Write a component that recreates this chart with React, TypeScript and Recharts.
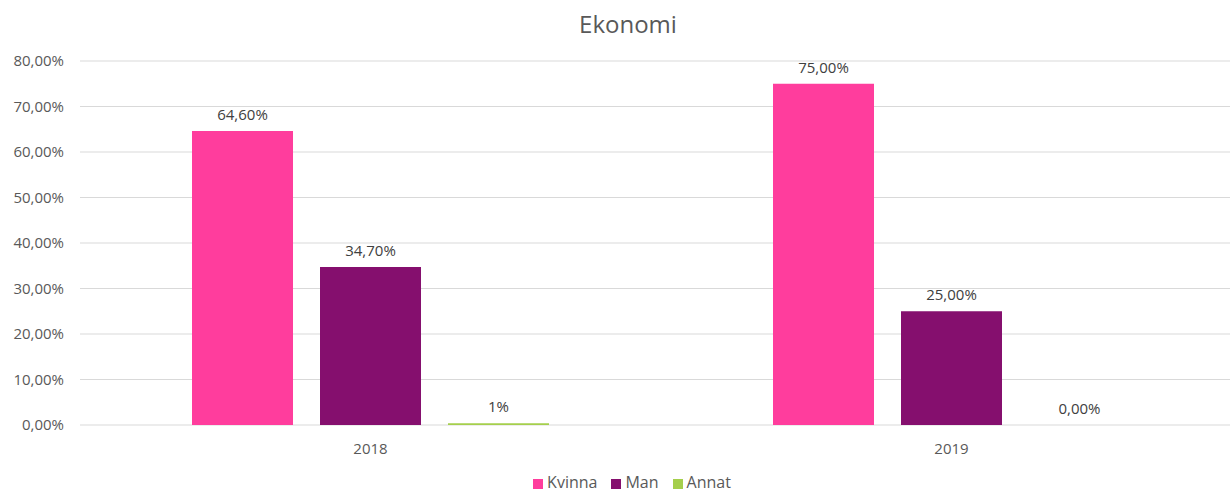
import { BarChart, Bar, XAxis, YAxis, CartesianGrid, Legend, LabelList } from "recharts";

const years = ["2018", "2019"];
const kvinna = [0.646, 0.75];
const man = [0.347, 0.25];
const annat = [0.004, 0];
const kvinnaLabels = ["64,60%", "75,00%"];
const manLabels = ["34,70%", "25,00%"];
const annatLabels = ["1%", "0,00%"];
const yTicks = [0, 0.1, 0.2, 0.3, 0.4, 0.5, 0.6, 0.7, 0.8];
const legendOrder = ["Kvinna", "Man", "Annat"];

const data = years.map((year, i) => ({
  year,
  kvinna: kvinna[i],
  man: man[i],
  annat: annat[i],
  kvinnaLabel: kvinnaLabels[i],
  manLabel: manLabels[i],
  annatLabel: annatLabels[i],
}));

const font = "'Open Sans', 'Noto Sans', sans-serif";
const textColor = "#595959";
const labelColor = "#404040";

const fmtPct = (v: number) => (v * 100).toFixed(2).replace(".", ",") + "%";

export default function App() {
  return (
    <div style={{ position: "absolute", left: 0, top: 0, width: 1230, height: 491, background: "#fff", fontFamily: font, overflow: "hidden" }}>
      <div style={{
        position: "absolute",
        top: 7,
        left: 0,
        width: 1256,
        textAlign: "center",
        fontSize: 24,
        color: textColor,
      }}>
        Ekonomi
      </div>
      <BarChart
        width={1230}
        height={491}
        data={data}
        margin={{ top: 61, right: -12, bottom: 0, left: 0 }}
        barSize={101}
        barGap={27}
        style={{ overflow: "visible" }}
      >
        <CartesianGrid vertical={false} stroke="#d9d9d9" />
        <XAxis
          dataKey="year"
          axisLine={false}
          tickLine={false}
          height={40}
          tick={{ fill: textColor, fontSize: 15, fontFamily: font }}
          tickMargin={12}
        />
        <YAxis
          domain={[0, 0.8]}
          ticks={yTicks}
          width={80}
          axisLine={false}
          tickLine={false}
          tickMargin={10}
          tickFormatter={fmtPct}
          tick={{ fill: textColor, fontSize: 15, fontFamily: font }}
        />
        <Legend
          iconType="square"
          iconSize={10}
          height={26}
          itemSorter={(item: any) => legendOrder.indexOf(item.value)}
          wrapperStyle={{ fontSize: 16, lineHeight: "16px", color: textColor, fontFamily: font, paddingLeft: 18, bottom: -9 }}
          formatter={(value) => <span style={{ color: textColor, marginRight: 4 }}>{value}</span>}
        />
        <Bar dataKey="kvinna" name="Kvinna" fill="#FF3D9D" isAnimationActive={false}>
          <LabelList dataKey="kvinnaLabel" position="top" offset={11} fill={labelColor} fontSize={15} fontFamily={font} />
        </Bar>
        <Bar dataKey="man" name="Man" fill="#850F6E" isAnimationActive={false}>
          <LabelList dataKey="manLabel" position="top" offset={11} fill={labelColor} fontSize={15} fontFamily={font} />
        </Bar>
        <Bar
          dataKey="annat"
          name="Annat"
          fill="#A5CF4C"
          minPointSize={(v: number) => (v === 0 ? 0.01 : 0)}
          isAnimationActive={false}
        >
          <LabelList dataKey="annatLabel" position="top" offset={11} fill={labelColor} fontSize={15} fontFamily={font} />
        </Bar>
      </BarChart>
    </div>
  );
}
